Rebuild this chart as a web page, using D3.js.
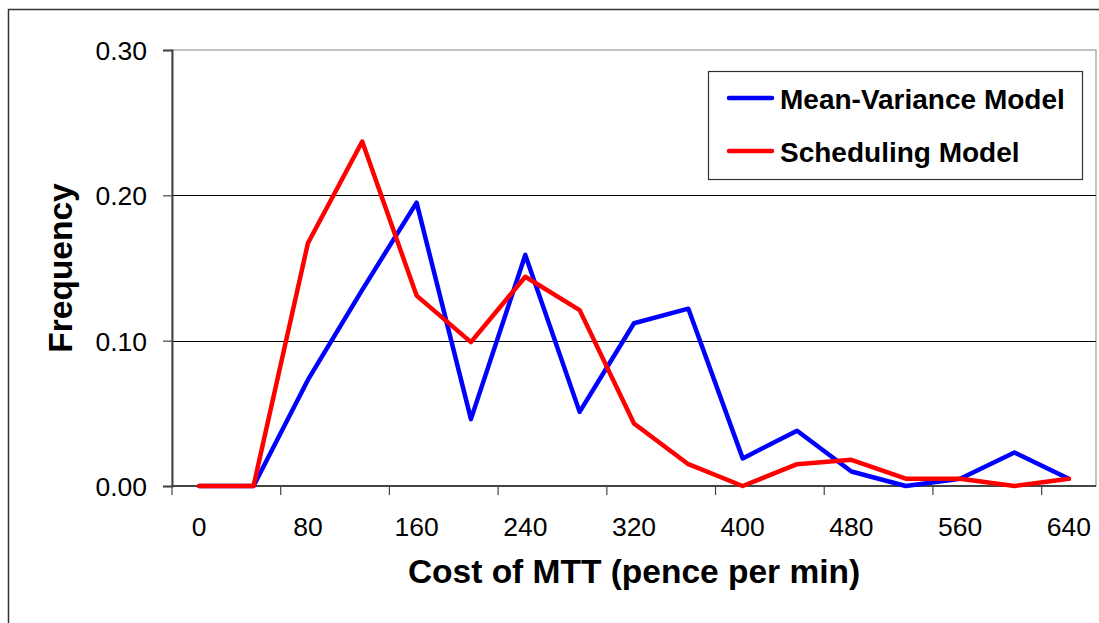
<!DOCTYPE html>
<html>
<head>
<meta charset="utf-8">
<script src="https://cdn.jsdelivr.net/npm/d3@7"></script>
<style>
  html, body { margin: 0; padding: 0; background: #fff; overflow: hidden; }
  svg { display: block; font-family: "Liberation Sans", Arial, sans-serif; }
</style>
</head>
<body>
<svg id="chart" width="1099" height="623"></svg>
<script>
const categories = [0, 40, 80, 120, 160, 200, 240, 280, 320, 360, 400, 440, 480, 520, 560, 600, 640];
const meanVariance = [0, 0, 0.073, 0.135, 0.195, 0.046, 0.159, 0.051, 0.112, 0.122, 0.019, 0.038, 0.010, 0.000, 0.005, 0.023, 0.005];
const scheduling   = [0, 0, 0.167, 0.237, 0.131, 0.099, 0.144, 0.121, 0.043, 0.015, 0.000, 0.015, 0.018, 0.005, 0.005, 0.000, 0.005];
const yTicks = [0, 0.1, 0.2, 0.3];
const xLabelCats = [0, 80, 160, 240, 320, 400, 480, 560, 640];
const seriesNames = ["Mean-Variance Model", "Scheduling Model"];
const seriesColors = ["#0000FF", "#FF0000"];

const svg = d3.select("#chart");
const L = 172, R = 1096, T = 50, B = 486;

const x = d3.scaleBand().domain(categories).range([L, R]).paddingInner(0).paddingOuter(0);
const y = d3.scaleLinear().domain([0, 0.3]).range([B, T]);
const cx = c => x(c) + x.bandwidth() / 2;

// outer frame
svg.append("rect").attr("x", 8.5).attr("y", 9.5).attr("width", 1200).attr("height", 700)
  .attr("fill", "none").attr("stroke", "#333").attr("stroke-width", 1.5);

// plot area border (gray)
svg.append("rect").attr("x", L).attr("y", T).attr("width", R - L).attr("height", B - T)
  .attr("fill", "none").attr("stroke", "#9a9a9a").attr("stroke-width", 1.2);

// gridlines
svg.append("g").selectAll("line").data(yTicks.filter(d => d > 0 && d < 0.3)).join("line")
  .attr("x1", L).attr("x2", R).attr("y1", d => Math.round(y(d)) + 0.5).attr("y2", d => Math.round(y(d)) + 0.5)
  .attr("stroke", "#000").attr("stroke-width", 1);

// Y axis
const yAxis = d3.axisLeft(y).tickValues(yTicks).tickSize(9).tickPadding(16).tickFormat(d3.format(".2f"));
const gy = svg.append("g").attr("transform", `translate(${L},0)`).call(yAxis);
gy.select(".domain").attr("stroke", "#444").attr("stroke-width", 2);
gy.selectAll(".tick line").attr("stroke", "#444").attr("stroke-width", 1.2);
gy.selectAll(".tick text").attr("font-size", 26.5).attr("fill", "#000")
  .attr("font-family", "'Liberation Sans', Arial, sans-serif").attr("dy", "0.36em");

// X axis: labels at band centres, tick marks at band boundaries
const xAxis = d3.axisBottom(x).tickValues(xLabelCats).tickSize(0).tickPadding(31);
const gx = svg.append("g").attr("transform", `translate(0,${B})`).call(xAxis);
gx.select(".domain").remove();
gx.selectAll(".tick text").attr("font-size", 26.5).attr("fill", "#000")
  .attr("font-family", "'Liberation Sans', Arial, sans-serif");
svg.append("line").attr("x1", L).attr("x2", R).attr("y1", B).attr("y2", B)
  .attr("stroke", "#444").attr("stroke-width", 2);
svg.append("g").selectAll("line").data(xLabelCats).join("line")
  .attr("x1", d => x(d)).attr("x2", d => x(d)).attr("y1", B).attr("y2", B + 9)
  .attr("stroke", "#444").attr("stroke-width", 1.2);

// lines
const line = d3.line().x((d, i) => cx(categories[i])).y(d => y(d));
[meanVariance, scheduling].forEach((s, k) => {
  svg.append("path").datum(s).attr("d", line)
    .attr("fill", "none").attr("stroke", seriesColors[k]).attr("stroke-width", 4.5)
    .attr("stroke-linejoin", "round").attr("stroke-linecap", "round");
});

// axis titles
svg.append("text").attr("x", (L + R) / 2).attr("y", 583).attr("text-anchor", "middle")
  .attr("font-size", 33.5).attr("font-weight", "bold").text("Cost of MTT (pence per min)");
svg.append("text").attr("transform", `translate(72,${(T + B) / 2}) rotate(-90)`).attr("text-anchor", "middle")
  .attr("font-size", 33.5).attr("font-weight", "bold").text("Frequency");

// legend
const lg = svg.append("g");
lg.append("rect").attr("x", 708.5).attr("y", 71.5).attr("width", 374).attr("height", 108)
  .attr("fill", "#fff").attr("stroke", "#333").attr("stroke-width", 1.2);
seriesNames.forEach((n, k) => {
  const yy = 98 + k * 53;
  lg.append("line").attr("x1", 729).attr("x2", 772).attr("y1", yy).attr("y2", yy)
    .attr("stroke", seriesColors[k]).attr("stroke-width", 4.5).attr("stroke-linecap", "round");
  lg.append("text").attr("x", 780).attr("y", yy + 11).attr("font-size", 28).attr("font-weight", "bold").text(n);
});
</script>
</body>
</html>
